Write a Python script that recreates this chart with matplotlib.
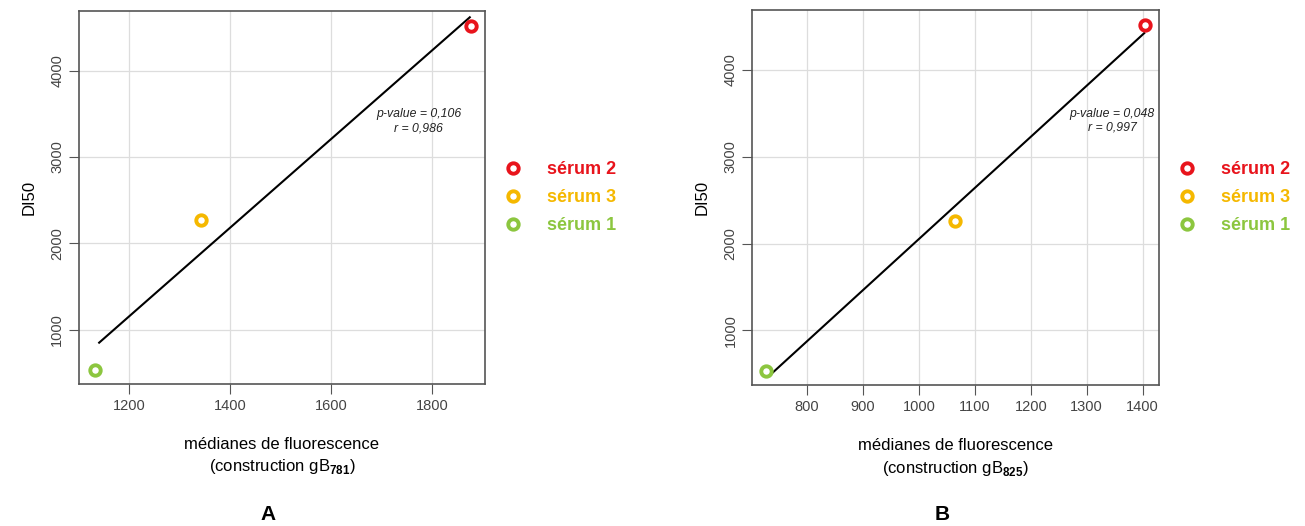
import numpy as np
import matplotlib.pyplot as plt

plt.rcParams['font.family'] = ['Liberation Sans', 'DejaVu Sans']
plt.rcParams['mathtext.fontset'] = 'custom'
plt.rcParams['mathtext.rm'] = 'Liberation Sans'
plt.rcParams['mathtext.bf'] = 'Liberation Sans:bold'

# data
serums = ['sérum 2', 'sérum 3', 'sérum 1']
colors = ['#e8141c', '#f5b800', '#8cc63f']
di50 = [4520, 2265, 531]
fluo_781 = [1877, 1342, 1133]
fluo_825 = [1405, 1065, 727]
stats_781 = ['p-value = 0,106', 'r = 0,986']
stats_825 = ['p-value = 0,048', 'r = 0,997']

fig = plt.figure(figsize=(13.05, 5.26), dpi=100)
axA = fig.add_axes([0.0605, 0.270, 0.3111, 0.709])
axB = fig.add_axes([0.5765, 0.268, 0.3119, 0.713])


def panel(ax, xs, stats, xlim, xticks, sub, txt_x):
    slope, icpt = np.polyfit(xs, di50, 1)
    xl = np.array([min(xs) + 8, max(xs) - 2])
    ax.plot(xl, slope * xl + icpt, color='black', lw=1.5, zorder=2)
    for x, y, c, s in zip(xs, di50, colors, serums):
        ax.plot(x, y, 'o', mfc='white', mec=c, mew=2.8, ms=7.5, label=s,
                linestyle='none', zorder=3)
    ax.set_xlim(*xlim)
    ax.set_ylim(370, 4690)
    ax.set_xticks(xticks)
    ax.set_yticks([1000, 2000, 3000, 4000])
    ax.grid(True, color='#dddddd', lw=0.9)
    ax.set_axisbelow(True)
    for sp in ax.spines.values():
        sp.set_color('#555555')
        sp.set_linewidth(1.2)
    ax.tick_params(direction='out', length=7, color='#555555',
                   labelsize=10.5, labelcolor='#444444')
    for lab in ax.get_yticklabels():
        lab.set_rotation(90)
        lab.set_va('center')
    ax.set_ylabel('DI50', fontsize=12, labelpad=10)
    ax.text(txt_x, 3493, stats[0], fontsize=8.8, style='italic', ha='center',
            va='center', color='#222222')
    ax.text(txt_x, 3331, stats[1], fontsize=8.8, style='italic', ha='center',
            va='center', color='#222222')
    ax.text(0.5, -0.162, 'médianes de fluorescence', transform=ax.transAxes,
            ha='center', va='center', fontsize=12)
    ax.text(0.5, -0.222, '(construction gB$_{\\mathbf{' + sub + '}}$)',
            transform=ax.transAxes, ha='center', va='center', fontsize=12)
    ax.legend(loc='center left', bbox_to_anchor=(1.015, 0.5),
              frameon=False, handlelength=0.6, handletextpad=1.6,
              labelspacing=0.6, prop={'weight': 'bold', 'size': 13},
              labelcolor=colors)


panel(axA, fluo_781, stats_781, (1101, 1905), [1200, 1400, 1600, 1800],
      '781', 1774)
panel(axB, fluo_825, stats_825, (702, 1430), [800, 900, 1000, 1100, 1200, 1300, 1400],
      '825', 1346)

fig.text(268 / 1305, 1 - 515 / 526, 'A', ha='center', va='center',
         fontsize=15, fontweight='bold')
fig.text(942 / 1305, 1 - 515 / 526, 'B', ha='center', va='center',
         fontsize=15, fontweight='bold')

plt.savefig('out.png', dpi=100)
